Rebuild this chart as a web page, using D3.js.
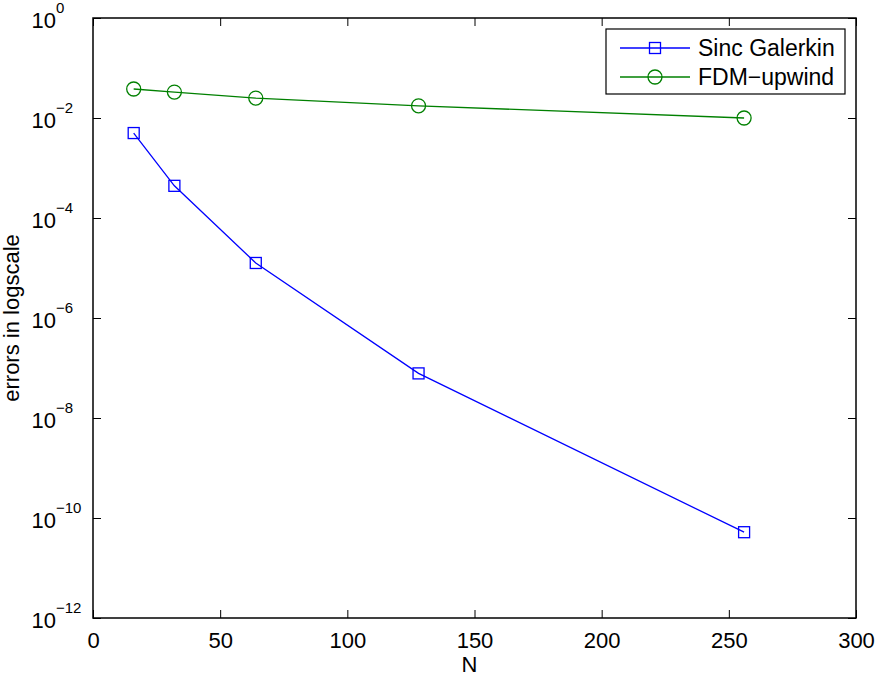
<!DOCTYPE html>
<html>
<head>
<meta charset="utf-8">
<script src="https://cdn.jsdelivr.net/npm/d3@7"></script>
<style>
  body { margin: 0; background: #fff; }
  svg { display: block; font-family: "Liberation Sans", Arial, sans-serif; }
</style>
</head>
<body>
<svg id="chart" width="875" height="676"></svg>
<script>
const N_VALUES = [16, 32, 64, 128, 256];
const SINC_ERRORS = [5.0e-3, 4.4e-4, 1.26e-5, 7.8e-8, 5.2e-11];
const FDM_ERRORS = [3.8e-2, 3.3e-2, 2.5e-2, 1.75e-2, 1.0e-2];
const X_TICKS = [0, 50, 100, 150, 200, 250, 300];
const Y_EXPONENTS = [0, -2, -4, -6, -8, -10, -12];
const SERIES_NAMES = ["Sinc Galerkin", "FDM\u2212upwind"];

const svg = d3.select("#chart");
const plotLeft = 93, plotRight = 856, plotTop = 18, plotBottom = 618;

const x = d3.scaleLinear().domain([0, 300]).range([plotLeft, plotRight]);
const y = d3.scaleLog().domain([1e-12, 1]).range([plotBottom, plotTop]);

// ticks on all four sides, pointing inward
const yTickVals = Y_EXPONENTS.map((e) => Math.pow(10, e));

function styleAxis(g) {
  g.select(".domain").remove();
  g.selectAll(".tick line").attr("stroke", "#000").attr("stroke-width", 1);
}

svg.append("g")
  .attr("transform", "translate(0," + plotBottom + ")")
  .call(d3.axisBottom(x).tickValues(X_TICKS).tickSize(-8).tickFormat(d3.format("d")))
  .call(styleAxis)
  .call((g) => g.selectAll(".tick text")
    .attr("y", 14)
    .attr("dy", "0.72em")
    .attr("font-size", 22)
    .attr("font-family", "Liberation Sans, Arial, sans-serif")
    .attr("fill", "#000"));

svg.append("g")
  .attr("transform", "translate(0," + plotTop + ")")
  .call(d3.axisTop(x).tickValues(X_TICKS).tickSize(-8).tickFormat(""))
  .call(styleAxis);

svg.append("g")
  .attr("transform", "translate(" + plotLeft + ",0)")
  .call(d3.axisLeft(y).tickValues(yTickVals).tickSize(-8).tickFormat(""))
  .call(styleAxis);

svg.append("g")
  .attr("transform", "translate(" + plotRight + ",0)")
  .call(d3.axisRight(y).tickValues(yTickVals).tickSize(-8).tickFormat(""))
  .call(styleAxis);

// y tick labels as 10^e
const yLabels = svg.append("g").attr("class", "y-labels");
Y_EXPONENTS.forEach((e) => {
  const py = y(Math.pow(10, e));
  yLabels.append("text")
    .attr("x", 56)
    .attr("y", py + 10)
    .attr("text-anchor", "end")
    .attr("font-size", 22)
    .text("10");
  yLabels.append("text")
    .attr("x", 56)
    .attr("y", py - 5)
    .attr("font-size", 15)
    .text(e === 0 ? "0" : "\u2212" + Math.abs(e));
});

// box
svg.append("rect")
  .attr("x", plotLeft).attr("y", plotTop)
  .attr("width", plotRight - plotLeft).attr("height", plotBottom - plotTop)
  .attr("fill", "none").attr("stroke", "#000").attr("stroke-width", 1.5);

// axis titles
svg.append("text")
  .attr("x", (plotLeft + plotRight) / 2 - 5)
  .attr("y", 672)
  .attr("text-anchor", "middle")
  .attr("font-size", 22)
  .text("N");

svg.append("text")
  .attr("transform", "translate(19,318) rotate(-90)")
  .attr("text-anchor", "middle")
  .attr("font-size", 22)
  .text("errors in logscale");

// data
const line = d3.line().x((d) => x(d[0])).y((d) => y(d[1]));
const sincData = N_VALUES.map((n, i) => [n, SINC_ERRORS[i]]);
const fdmData = N_VALUES.map((n, i) => [n, FDM_ERRORS[i]]);

function drawSquare(g, cx, cy, color) {
  g.append("rect")
    .attr("x", cx - 5.5).attr("y", cy - 5.5)
    .attr("width", 11).attr("height", 11)
    .attr("fill", "none").attr("stroke", color).attr("stroke-width", 1.3);
}

function drawCircle(g, cx, cy, color) {
  g.append("circle")
    .attr("cx", cx).attr("cy", cy).attr("r", 7)
    .attr("fill", "none").attr("stroke", color).attr("stroke-width", 1.3);
}

const fdmG = svg.append("g");
fdmG.append("path").datum(fdmData).attr("d", line)
  .attr("fill", "none").attr("stroke", "#008000").attr("stroke-width", 1.3);
fdmData.forEach((d) => drawCircle(fdmG, x(d[0]), y(d[1]), "#008000"));

const sincG = svg.append("g");
sincG.append("path").datum(sincData).attr("d", line)
  .attr("fill", "none").attr("stroke", "#0000ff").attr("stroke-width", 1.3);
sincData.forEach((d) => drawSquare(sincG, x(d[0]), y(d[1]), "#0000ff"));

// legend
const legend = svg.append("g");
legend.append("rect")
  .attr("x", 606).attr("y", 29).attr("width", 239).attr("height", 65)
  .attr("fill", "#fff").attr("stroke", "#000").attr("stroke-width", 1.2);

const legendColors = ["#0000ff", "#008000"];
const legendRows = [48, 77];
SERIES_NAMES.forEach((name, i) => {
  const ly = legendRows[i];
  legend.append("line")
    .attr("x1", 620).attr("x2", 690).attr("y1", ly).attr("y2", ly)
    .attr("stroke", legendColors[i]).attr("stroke-width", 1.3);
  if (i === 0) drawSquare(legend, 655, ly, legendColors[i]);
  else drawCircle(legend, 655, ly, legendColors[i]);
  legend.append("text")
    .attr("x", 698).attr("y", ly + 8)
    .attr("font-size", 23)
    .text(name);
});
</script>
</body>
</html>
